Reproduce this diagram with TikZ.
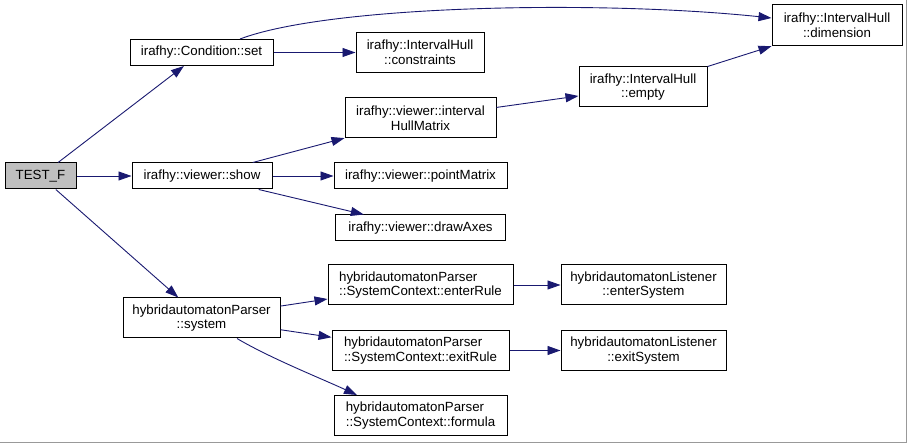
\documentclass[tikz,border=0pt]{standalone}
\usepackage{fontspec}
\setmainfont{Liberation Sans}
\usetikzlibrary{arrows.meta}
\definecolor{edgeblue}{HTML}{191970}
\definecolor{framegray}{HTML}{999999}
\definecolor{rootfill}{HTML}{BFBFBF}
\begin{document}
\begin{tikzpicture}[x=1pt,y=-1pt,
  box/.style={draw=black, line width=1pt, inner sep=0pt, align=center,
    font=\fontsize{13.3}{14.5}\selectfont, fill=white},
  lbox/.style={box, align=left},
  edge/.style={draw=edgeblue, line width=0.9pt,
    -{Triangle[length=13pt,width=9pt]}, color=edgeblue}
]
\useasboundingbox (0,0) rectangle (907,443);
\draw[framegray, line width=1pt] (906,0) -- (906,442) -- (0,442);

\node[box, fill=rootfill, minimum width=71pt, minimum height=26pt] (test) at (40.5,176) {TEST\_F};
\node[box, minimum width=143pt, minimum height=26pt] (set) at (201.5,52.5) {irafhy::Condition::set};
\node[box, minimum width=140pt, minimum height=26pt] (show) at (202,176) {irafhy::viewer::show};
\node[box, minimum width=157pt, minimum height=40pt] (sys) at (201.5,318) {hybridautomatonParser\\::system};

\node[box, minimum width=128pt, minimum height=40pt] (cons) at (420,52.5) {irafhy::IntervalHull\\::constraints};
\node[box, minimum width=151pt, minimum height=40pt] (ihm) at (420.5,118) {irafhy::viewer::interval\\HullMatrix};
\node[box, minimum width=173pt, minimum height=26pt] (pm) at (420.5,176) {irafhy::viewer::pointMatrix};
\node[box, minimum width=170pt, minimum height=26pt] (da) at (420.5,228) {irafhy::viewer::drawAxes};
\node[lbox, minimum width=185pt, minimum height=40pt] (enr) at (420.5,285) {hybridautomatonParser\\::SystemContext::enterRule};
\node[lbox, minimum width=177pt, minimum height=40pt] (exr) at (420.5,350.5) {hybridautomatonParser\\::SystemContext::exitRule};
\node[lbox, minimum width=173pt, minimum height=40pt] (form) at (420.5,415.5) {hybridautomatonParser\\::SystemContext::formula};

\node[box, minimum width=128pt, minimum height=40pt] (empty) at (643,87) {irafhy::IntervalHull\\::empty};
\node[box, minimum width=165pt, minimum height=40pt] (ens) at (643.5,285) {hybridautomatonListener\\::enterSystem};
\node[box, minimum width=165pt, minimum height=40pt] (exs) at (643.5,350.5) {hybridautomatonListener\\::exitSystem};

\node[box, minimum width=130pt, minimum height=41pt] (dim) at (837,25.5) {irafhy::IntervalHull\\::dimension};

\draw[edge] (test) -- (set);
\draw[edge] (test) -- (show);
\draw[edge] (test) -- (sys);
\draw[edge] (set) -- (cons);
\draw[edge] ([xshift=38.5pt]set.north) .. controls (330,5) and (600,0) .. ([yshift=7.5pt]dim.west);
\draw[edge] (show) -- (ihm);
\draw[edge] (show) -- (pm);
\draw[edge] (show) -- (da);
\draw[edge] (ihm) -- (empty);
\draw[edge] (empty) -- (dim);
\draw[edge] (sys) -- (enr);
\draw[edge] (sys) -- (exr);
\draw[edge] ([xshift=35.5pt]sys.south) .. controls (270,358) and (320,378) .. ([xshift=-63.5pt]form.north);
\draw[edge] (enr) -- (ens);
\draw[edge] (exr) -- (exs);
\end{tikzpicture}
\end{document}
